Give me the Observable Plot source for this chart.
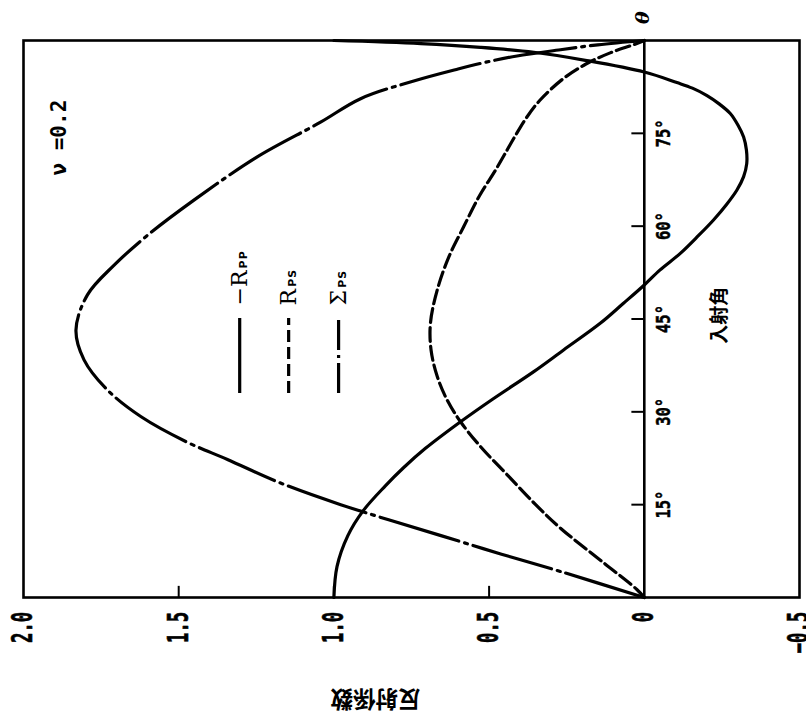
<!DOCTYPE html>
<html>
<head>
<meta charset="utf-8">
<script src="https://cdn.jsdelivr.net/npm/d3@7"></script>
<script src="https://cdn.jsdelivr.net/npm/@observablehq/plot@0.6"></script>
<style>
  body { margin: 0; background: #fff; }
  #chart svg { display: block; }
</style>
</head>
<body>
<div id="chart"></div>
<script>
// ---- Data (incidence angle in degrees, reflection coefficient) ----
const rppAngles = [0, 5, 10, 14, 18, 21, 24.1, 28.4, 32, 36.5, 40, 44.3, 47.5, 50.5, 52.9, 55.6, 58.5, 61, 63.5, 65.8, 68, 70.1, 72.3, 74.4, 76.3, 78.2, 79.8, 81.1, 82.3, 83.2, 84.9, 86.8, 88.1, 88.9, 89.5, 90];
const rppValues = [1.0, 0.99, 0.955, 0.906, 0.835, 0.775, 0.705, 0.592, 0.49, 0.356, 0.26, 0.142, 0.068, 0, -0.05, -0.116, -0.175, -0.223, -0.265, -0.298, -0.32, -0.33, -0.329, -0.32, -0.302, -0.277, -0.24, -0.202, -0.155, -0.105, 0, 0.19, 0.356, 0.528, 0.72, 1.0];

const rpsAngles = [0, 1.3, 5.6, 11.2, 15, 20, 24.4, 28.4, 31.9, 35.7, 40, 44.3, 49.7, 55, 59.9, 65, 69, 72.3, 74.4, 77.5, 80.3, 83.8, 86.2, 88, 89.4, 90];
const rpsValues = [0, 0.024, 0.131, 0.27, 0.35, 0.445, 0.528, 0.592, 0.635, 0.667, 0.687, 0.689, 0.667, 0.63, 0.582, 0.53, 0.48, 0.442, 0.418, 0.38, 0.337, 0.262, 0.188, 0.11, 0.03, 0];

const sigmaAngles = [0, 4.2, 7, 10, 15, 18.6, 22.3, 25.2, 29.2, 33.5, 38.4, 43.2, 48.9, 53.7, 58.5, 64.2, 71.2, 76.8, 80.6, 83.5, 85.4, 86.5, 87.5, 88.5, 89.3, 90];
const sigmaValues = [0, 0.27, 0.46, 0.655, 0.978, 1.177, 1.343, 1.477, 1.621, 1.729, 1.805, 1.831, 1.794, 1.708, 1.601, 1.451, 1.247, 1.043, 0.914, 0.74, 0.6, 0.51, 0.41, 0.27, 0.15, 0];

// Axis ticks and labels
const coefTicks = [2.0, 1.5, 1.0, 0.5, 0, -0.5];
const coefTickLabels = ["2.0", "1.5", "1.0", "0.5", "0", "\u22120.5"];
const angleTicks = [15, 30, 45, 60, 75];
const angleTickLabels = ["15°", "30°", "45°", "60°", "75°"];
const angleAxisSymbol = "θ";
const xTitle = "入射角";
const yTitle = "反射係数";
const annotation = "ν =0.2";

// Legend
const legendMain = ["\u2212R", "R", "Σ"];
const legendSub = ["PP", "PS", "PS"];

// ---- Build tables ----
const rppData = rppAngles.map((a, i) => ({a, v: rppValues[i]}));
const rpsData = rpsAngles.map((a, i) => ({a, v: rpsValues[i]}));
const sigmaData = sigmaAngles.map((a, i) => ({a, v: sigmaValues[i]}));
const coefLab = coefTicks.map((v, i) => ({v, t: coefTickLabels[i]}));
const angleLab = angleTicks.map((a, i) => ({a, t: angleTickLabels[i]}));

const legendX = [1.3035, 1.1458, 0.9849];
const legendDash = [null, "12,5", "30,5,3,5"];
const legendData = legendMain.map((t, i) => ({t, sub: legendSub[i], x: legendX[i], dash: legendDash[i]}));

const mono = "'DejaVu Sans Mono', monospace";
const cjk = "'Noto Sans CJK JP', sans-serif";

const plot = Plot.plot({
  width: 806,
  height: 718,
  marginLeft: 23,
  marginRight: 7,
  marginTop: 40,
  marginBottom: 121,
  style: {background: "#fff", color: "#000", fontFamily: mono},
  x: {domain: [2, -0.5], axis: null},
  y: {domain: [0, 90], axis: null},
  marks: [
    Plot.frame({stroke: "#000", strokeWidth: 2.6}),
    Plot.ruleX([0], {stroke: "#000", strokeWidth: 2.6}),
    Plot.ruleX(coefTicks.filter(v => v > 0 && v < 2), {x: d => d, y1: 0, y2: 1.8, stroke: "#000", strokeWidth: 2}),
    Plot.ruleY(angleTicks, {y: d => d, x1: 0, x2: 0.04, stroke: "#000", strokeWidth: 2}),
    // curves
    Plot.line(rppData, {x: "v", y: "a", curve: "catmull-rom", stroke: "#000", strokeWidth: 3.2}),
    Plot.line(rpsData, {x: "v", y: "a", curve: "catmull-rom", stroke: "#000", strokeWidth: 3.2, strokeDasharray: "14,5"}),
    Plot.line(sigmaData, {x: "v", y: "a", curve: "catmull-rom", stroke: "#000", strokeWidth: 3.2, strokeDasharray: "82,6,3,6"}),
    // coefficient labels
    Plot.text(coefLab, {x: "v", y: () => -2.3, text: "t", rotate: -90, textAnchor: "end", lineAnchor: "middle",
      fontSize: 28, fontWeight: "bold", fontFamily: mono, fill: "#000", stroke: "#000", strokeWidth: 0.6}),
    // angle labels
    Plot.text(angleLab, {x: () => -0.061, y: "a", text: "t", rotate: -90, textAnchor: "middle", lineAnchor: "middle",
      fontSize: 20, fontWeight: "bold", fontFamily: mono, fill: "#000", stroke: "#000", strokeWidth: 0.5}),
    Plot.text([angleAxisSymbol], {x: () => 0.003, y: () => 93.7, text: d => d, rotate: -90, textAnchor: "middle", lineAnchor: "middle",
      fontSize: 19, fontWeight: "bold", fontStyle: "italic", fontFamily: "'DejaVu Serif', serif", fill: "#000"}),
    Plot.text([xTitle], {x: () => -0.245, y: () => 45.6, text: d => d, rotate: -90, textAnchor: "middle", lineAnchor: "middle",
      fontSize: 19, fontWeight: "bold", fontFamily: cjk, fill: "#000"}),
    Plot.text([yTitle], {x: () => 0.866, y: () => -16.3, text: d => d, rotate: 180, textAnchor: "middle", lineAnchor: "middle",
      fontSize: 22.5, fontWeight: "bold", fontFamily: cjk, fill: "#000"}),
    Plot.text([annotation], {x: () => 1.886, y: () => 74.3, text: d => d, rotate: -90, textAnchor: "middle", lineAnchor: "middle",
      fontSize: 21, fontWeight: "bold", fontFamily: mono, fill: "#000"}),
    // legend
    ...legendData.map(d => Plot.ruleX([d], {x: "x", y1: 32.96, y2: 45.08, stroke: "#000", strokeWidth: 3.2,
      strokeDasharray: d.dash ?? undefined})),
    Plot.text(legendData, {x: "x", y: () => 47.2, text: "t", rotate: -90, textAnchor: "start", lineAnchor: "middle",
      fontSize: 22, fontFamily: "'DejaVu Serif', serif", fill: "#000"})
  ]
});

document.getElementById("chart").appendChild(plot);

// Post-process: condensed number labels (via textLength) and legend subscripts
const fsOf = el => {
  let n = el;
  while (n && n !== plot) {
    const f = n.getAttribute && n.getAttribute("font-size");
    if (f) return parseFloat(f);
    n = n.parentNode;
  }
  return null;
};
let legendIdx = 0;
d3.select(plot).selectAll("text").each(function() {
  const fs = fsOf(this);
  const n = (this.textContent || "").length;
  if (fs === 28) {
    this.setAttribute("textLength", String(n * 10.4));
    this.setAttribute("lengthAdjust", "spacingAndGlyphs");
  } else if (fs === 20) {
    this.setAttribute("textLength", String(n * 9.3));
    this.setAttribute("lengthAdjust", "spacingAndGlyphs");
  } else if (fs === 22) {
    const d = legendData[legendIdx++];
    if (!d) return;
    const ts = document.createElementNS("http://www.w3.org/2000/svg", "tspan");
    ts.textContent = d.sub;
    ts.setAttribute("font-size", "11");
    ts.setAttribute("font-weight", "bold");
    ts.setAttribute("font-family", "'DejaVu Sans', sans-serif");
    ts.setAttribute("letter-spacing", "1");
    ts.setAttribute("dx", "2");
    this.appendChild(ts);
  }
});
</script>
</body>
</html>
